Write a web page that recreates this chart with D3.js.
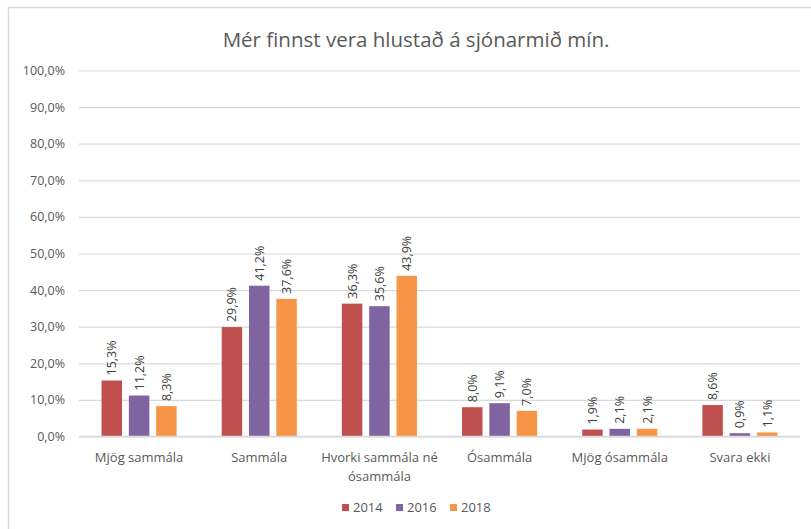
<!DOCTYPE html>
<html>
<head>
<meta charset="utf-8">
<script src="https://cdn.jsdelivr.net/npm/d3@7"></script>
<style>
  body { margin: 0; background: #fff; }
  svg { font-family: "Open Sans", sans-serif; }
</style>
</head>
<body>
<svg id="chart" width="811" height="529"></svg>
<script>
// categories and series
let categories = ["Mjög sammála", "Sammála", "Hvorki sammála né ósammála", "Ósammála", "Mjög ósammála", "Svara ekki"];
let years = ["2014", "2016", "2018"];
let v2014 = [15.3, 29.9, 36.3, 8.0, 1.9, 8.6];
let v2016 = [11.2, 41.2, 35.6, 9.1, 2.1, 0.9];
let v2018 = [8.3, 37.6, 43.9, 7.0, 2.1, 1.1];
let yTicks = [0, 10, 20, 30, 40, 50, 60, 70, 80, 90, 100];
let title = "Mér finnst vera hlustað á sjónarmið mín.";

let seriesValues = [v2014, v2016, v2018];
let colors = ["#C0504D", "#8064A2", "#F79646"];

let svg = d3.select("#chart");
let plotLeft = 79, plotRight = 800, plotTop = 70.5, plotBottom = 436.5;

let fmt = function(v) { return v.toFixed(1).replace(".", ",") + "%"; };

// frame (only top/left edges are inside the picture)
svg.append("rect")
    .attr("x", 8.5).attr("y", 7.5)
    .attr("width", 900).attr("height", 900)
    .attr("fill", "none")
    .attr("stroke", "#d9d9d9")
    .attr("stroke-width", 1.5);

svg.append("text")
    .attr("x", 416).attr("y", 47)
    .attr("text-anchor", "middle")
    .attr("fill", "#595959")
    .style("font-size", "20.5px")
    .text(title);

let y = d3.scaleLinear().domain([0, 100]).range([plotBottom, plotTop]);
let x0 = d3.scaleBand().domain(categories).range([plotLeft, plotRight]).paddingInner(0.375).paddingOuter(0.1875);
let x1 = d3.scaleBand().domain(years).range([0, x0.bandwidth()]).paddingInner(0.25).paddingOuter(0);

// gridlines + y labels
let yAxis = svg.append("g")
    .attr("transform", "translate(" + plotLeft + ",0)")
    .call(d3.axisLeft(y).tickValues(yTicks).tickSize(-(plotRight - plotLeft)).tickFormat(fmt));
yAxis.select(".domain").remove();
yAxis.selectAll(".tick line").attr("stroke", "#d9d9d9").attr("stroke-width", 1.2);
yAxis.selectAll(".tick text")
    .attr("x", -14)
    .attr("fill", "#595959")
    .style("font-size", "12.5px")
    .style("font-family", "'Open Sans', sans-serif");

let data = [];
categories.forEach(function(c, i) {
    years.forEach(function(yr, j) {
        data.push({cat: c, year: yr, value: seriesValues[j][i], color: colors[j]});
    });
});

let bars = svg.append("g").selectAll("g")
    .data(data).enter().append("g");

bars.append("rect")
    .attr("x", function(d) { return x0(d.cat) + x1(d.year); })
    .attr("y", function(d) { return y(d.value); })
    .attr("width", x1.bandwidth())
    .attr("height", function(d) { return plotBottom - y(d.value); })
    .attr("fill", function(d) { return d.color; });

bars.append("text")
    .attr("transform", function(d) {
        let cx = x0(d.cat) + x1(d.year) + x1.bandwidth() / 2 + 4.5;
        let cy = y(d.value) - 5;
        return "translate(" + cx + "," + cy + ") rotate(-90)";
    })
    .attr("fill", "#404040")
    .style("font-size", "12.5px")
    .text(function(d) { return fmt(d.value); });

// x axis baseline
svg.append("line")
    .attr("x1", plotLeft).attr("x2", plotRight)
    .attr("y1", plotBottom).attr("y2", plotBottom)
    .attr("stroke", "#d9d9d9").attr("stroke-width", 1.5);

// category labels (wrapped like the original)
let wrapped = {"Hvorki sammála né ósammála": ["Hvorki sammála né", "ósammála"]};
let catG = svg.append("g").selectAll("text")
    .data(categories).enter().append("text")
    .attr("text-anchor", "middle")
    .attr("fill", "#595959")
    .style("font-size", "13px")
    .attr("x", function(d) { return x0(d) + x0.bandwidth() / 2; })
    .attr("y", 462);
catG.each(function(d) {
    let lines = wrapped[d] || [d];
    let t = d3.select(this);
    lines.forEach(function(l, i) {
        t.append("tspan")
            .attr("x", x0(d) + x0.bandwidth() / 2)
            .attr("dy", i === 0 ? 0 : 19)
            .text(l);
    });
});

// legend
let legendX = [342, 396, 450];
let legend = svg.append("g").selectAll("g")
    .data(years).enter().append("g")
    .attr("transform", function(d, i) { return "translate(" + legendX[i] + ",504)"; });
legend.append("rect")
    .attr("width", 7).attr("height", 7)
    .attr("fill", function(d, i) { return colors[i]; });
legend.append("text")
    .attr("x", 11).attr("y", 8)
    .attr("fill", "#595959")
    .style("font-size", "13px")
    .text(function(d) { return d; });
</script>
</body>
</html>
